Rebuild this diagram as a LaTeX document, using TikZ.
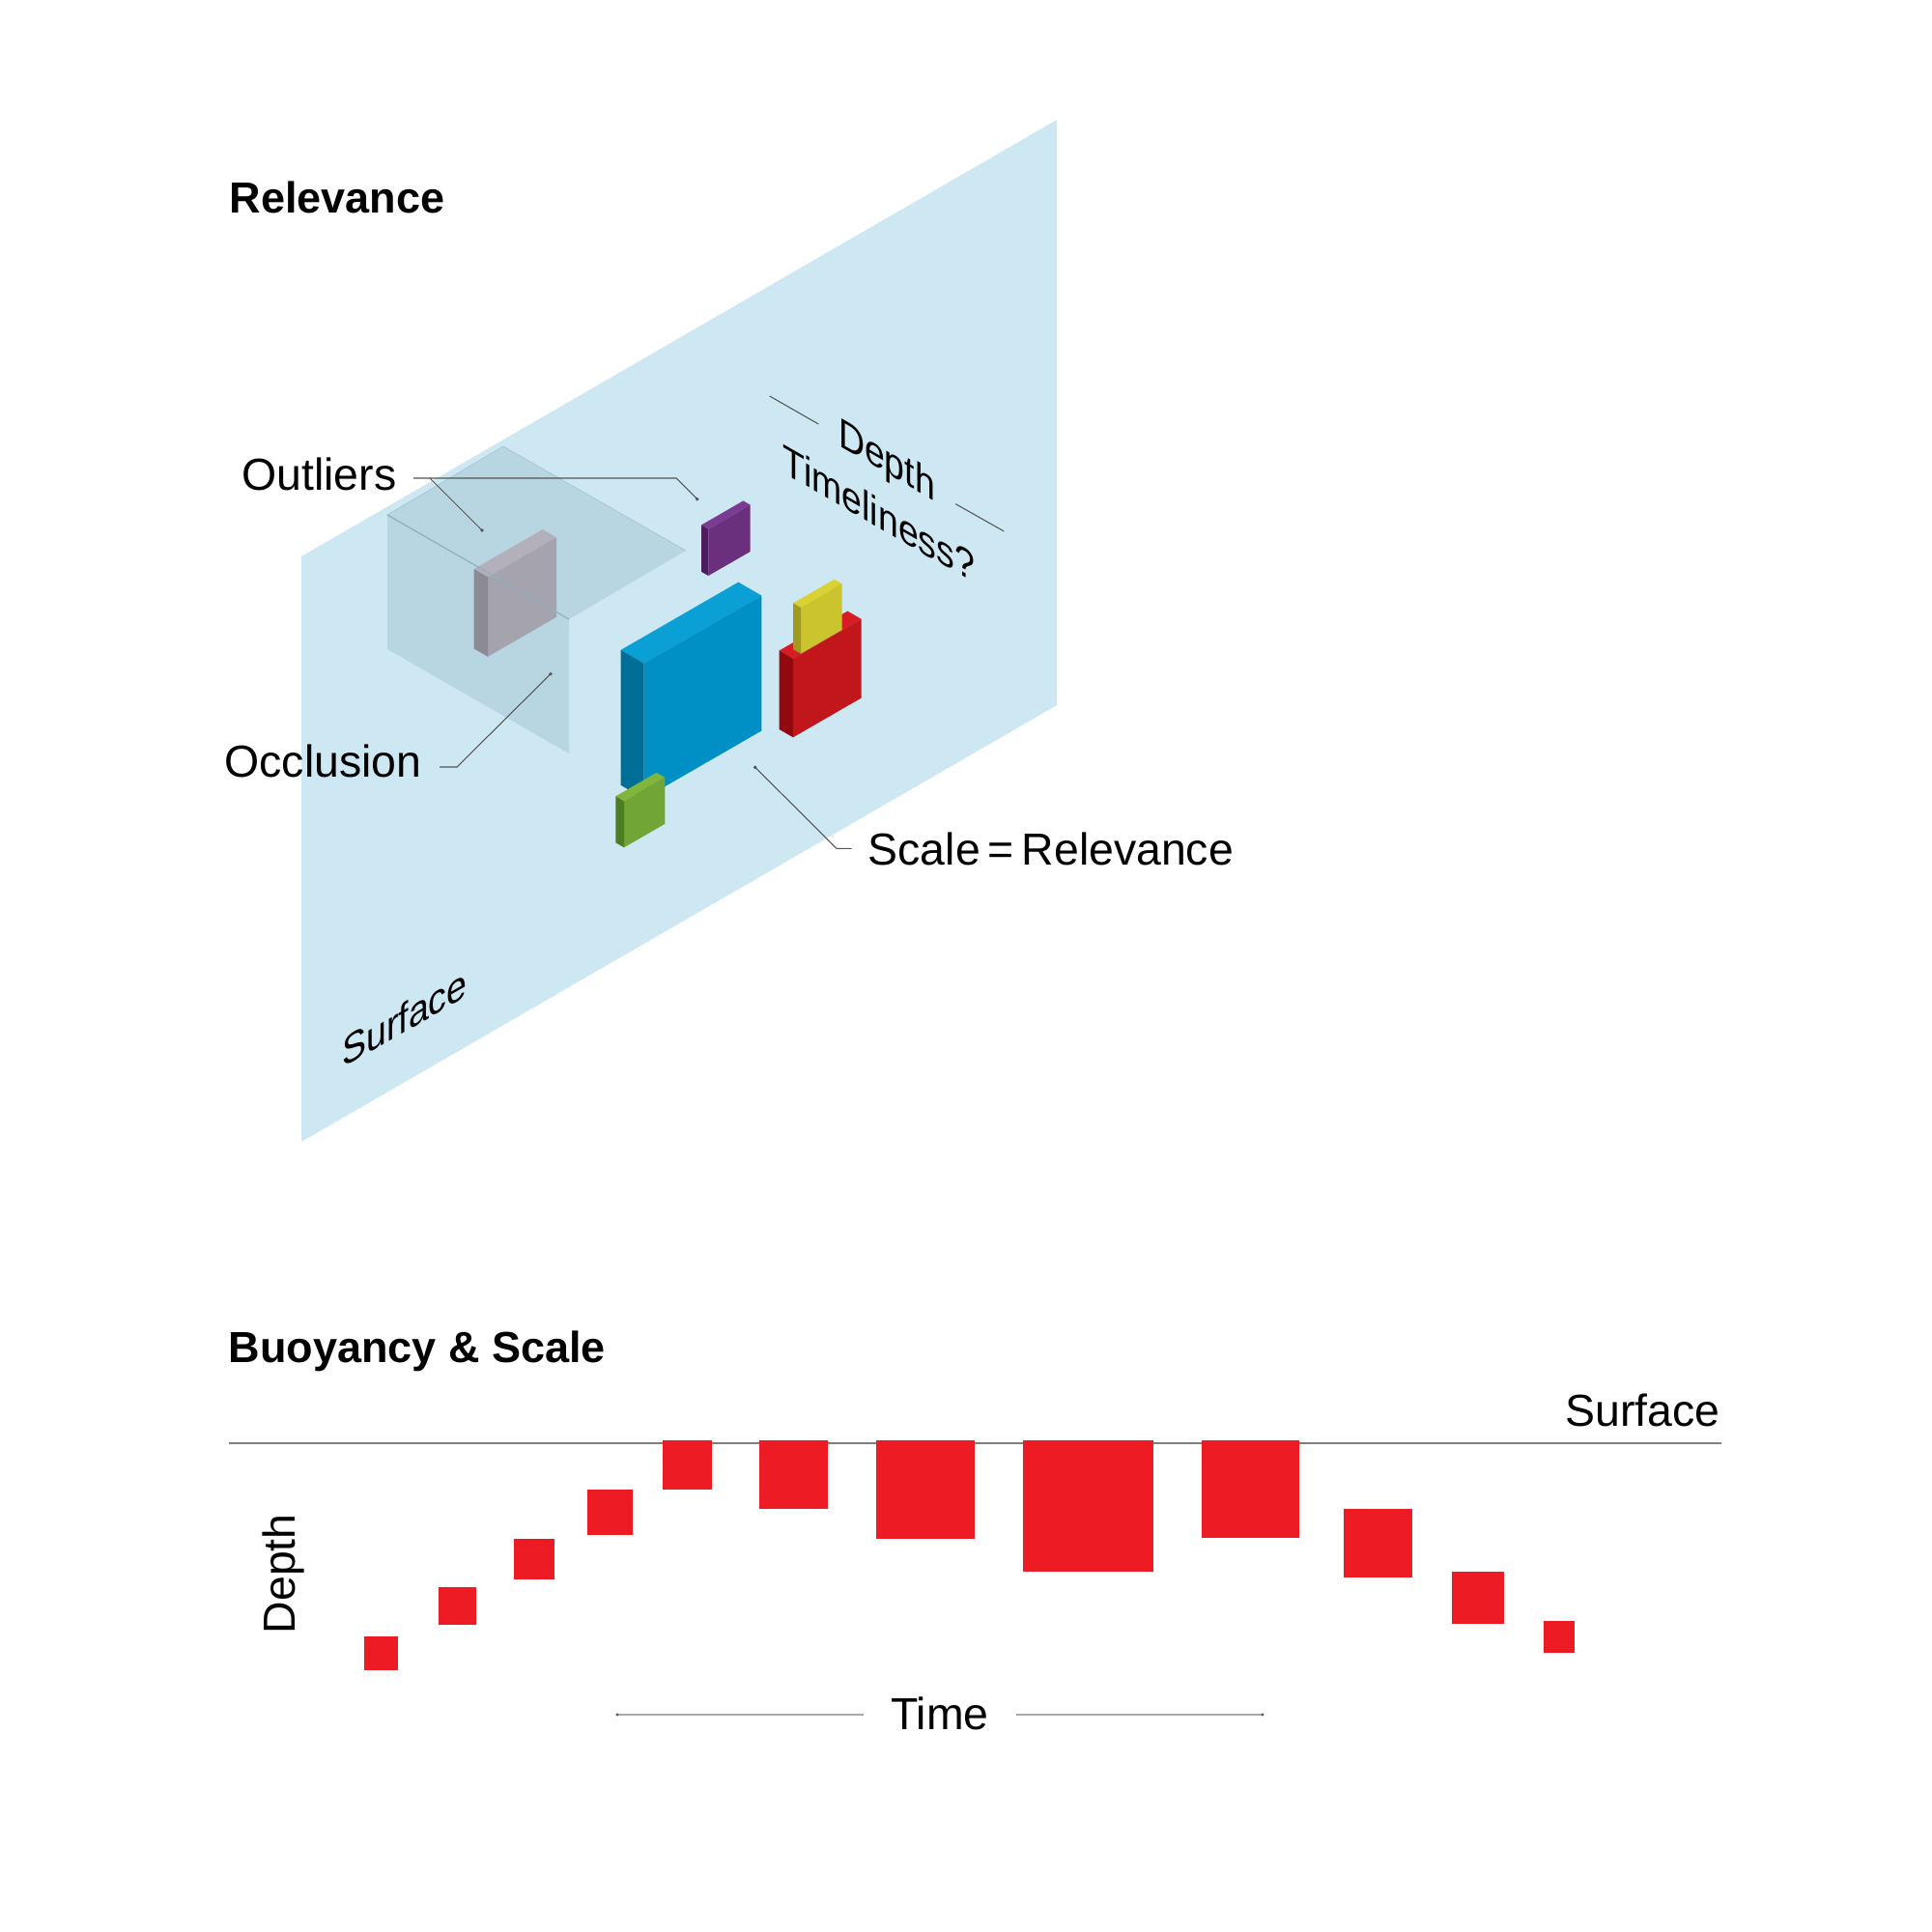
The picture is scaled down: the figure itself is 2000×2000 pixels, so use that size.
\documentclass[tikz,border=0pt]{standalone}
\usepackage{fontspec}
\setmainfont{Liberation Sans}
\definecolor{planeblue}{HTML}{CDE8F2}
\definecolor{overlayc}{HTML}{8FB5C5}
\definecolor{edgec}{HTML}{8FAFBD}
\definecolor{leadgray}{HTML}{555555}
\definecolor{timegray}{HTML}{A8A8A8}
\definecolor{surfgray}{HTML}{808080}
\definecolor{sqred}{HTML}{ED1C24}
\definecolor{grayT}{HTML}{B3B0BB}\definecolor{grayF}{HTML}{A5A3AE}\definecolor{grayS}{HTML}{8C8B95}
\definecolor{purT}{HTML}{7B3B93}\definecolor{purF}{HTML}{6A2F7D}\definecolor{purS}{HTML}{4D1C5E}
\definecolor{bluT}{HTML}{0AA0D6}\definecolor{bluF}{HTML}{0090C6}\definecolor{bluS}{HTML}{006F98}
\definecolor{grnT}{HTML}{82B53C}\definecolor{grnF}{HTML}{71A535}\definecolor{grnS}{HTML}{4F7D24}
\definecolor{redT}{HTML}{D81C23}\definecolor{redF}{HTML}{C1161C}\definecolor{redS}{HTML}{920A0D}
\definecolor{yelT}{HTML}{DAD233}\definecolor{yelF}{HTML}{CBC42C}\definecolor{yelS}{HTML}{A09A1E}
% x y w h d top front side
\newcommand{\isobox}[8]{%
  \fill[#6] ({#1-#5},{#2-0.57735*#5}) -- ({#1+#3-#5},{#2-0.57735*#3-0.57735*#5}) -- ({#1+#3},{#2-0.57735*#3}) -- (#1,#2) -- cycle;
  \fill[#7] (#1,#2) -- ({#1+#3},{#2-0.57735*#3}) -- ({#1+#3},{#2-0.57735*#3+#4}) -- (#1,{#2+#4}) -- cycle;
  \fill[#8] ({#1-#5},{#2-0.57735*#5}) -- (#1,#2) -- (#1,{#2+#4}) -- ({#1-#5},{#2-0.57735*#5+#4}) -- cycle;
}
\begin{document}
\begin{tikzpicture}[x=0.01cm,y=-0.01cm,
  lbl/.style={inner sep=0pt, font=\fontsize{13.2pt}{15pt}\selectfont},
  head/.style={inner sep=0pt, font=\fontsize{12.8pt}{15pt}\selectfont\bfseries},
  planelbl/.style={inner sep=0pt, transform shape, font=\fontsize{12.3pt}{14pt}\selectfont},
  leader/.style={draw=leadgray, line width=0.3pt},
  enddot/.style={fill=leadgray},
  sq/.style={fill=sqred, draw=none},
  overlay plane/.style={fill=overlayc, fill opacity=0.35}]
\fill[white] (0,0) rectangle (2000,2000);
\useasboundingbox (0,0) rectangle (2000,2000);

% main plane
\fill[planeblue] (312,576) -- (1094,124) -- (1094,730) -- (312,1182) -- cycle;

% occlusion planes
\fill[overlay plane] (401,533) -- (521,462) -- (710,570) -- (589,641) -- cycle;
\fill[overlay plane] (401,533) -- (589,641) -- (589,780) -- (401,672) -- cycle;
\draw[edgec, line width=0.2pt, opacity=0.5] (401,533) -- (521,462) -- (710,570);

% boxes
\isobox{505}{597.3}{71}{82.5}{14.3}{grayT}{grayF}{grayS}
\draw[edgec, line width=0.35pt] (401,533) -- (589,641);
\isobox{733.3}{547.7}{43.4}{48.3}{7.3}{purT}{purF}{purS}
\isobox{666.7}{686.7}{121.6}{140}{24}{bluT}{bluF}{bluS}
\isobox{646}{829.3}{42.3}{48}{8.7}{grnT}{grnF}{grnS}
\isobox{821}{681.7}{70.7}{81.6}{14.3}{redT}{redF}{redS}
\isobox{829}{629}{42.7}{47.7}{8}{yelT}{yelF}{yelS}

% labels top
\node[head, anchor=base west] (relev) at (237,221) {Relevance};
\node[lbl, anchor=base east] (outl) at (411,507) {Outliers};
\node[lbl, anchor=base east] (occl) at (437,804) {Occlusion};
\node[lbl, anchor=base west] (scalerel) at (898,895) {Scale\hspace{0.17em}=\hspace{0.17em}Relevance};

\begin{scope}[shift={(918,479)}, cm={0.866,-0.5,0,1,(0,0)}]
\node[planelbl] (depthtxt) at (0,0) {Depth};
\end{scope}
\begin{scope}[shift={(910,531)}, cm={0.866,-0.5,0,1,(0,0)}]
\node[planelbl] (timeliness) at (0,0) {Timeliness?};
\end{scope}
\begin{scope}[shift={(419,1053)}, cm={0.866,0.5,0,1,(0,0)}]
\node[planelbl] (surftxt) at (0,0) {Surface};
\end{scope}

% leaders
\coordinate (o1) at (428,495);
\coordinate (o2) at (700,495);
\coordinate (o3) at (721.7,516.7);
\coordinate (o4) at (445,495);
\coordinate (o5) at (499,549);
\draw[leader] (o1) -- (o2) -- (o3);
\draw[leader] (o4) -- (o5);
\fill[enddot] (o3) circle[radius=0.55pt];
\fill[enddot] (o5) circle[radius=0.55pt];

\coordinate (c1) at (455,794);
\coordinate (c2) at (473,794);
\coordinate (c3) at (570,697.7);
\draw[leader] (c1) -- (c2) -- (c3);
\fill[enddot] (c3) circle[radius=0.55pt];

\coordinate (s1) at (881.7,878.3);
\coordinate (s2) at (866,878.3);
\coordinate (s3) at (781.7,794.3);
\draw[leader] (s1) -- (s2) -- (s3);
\fill[enddot] (s3) circle[radius=0.55pt];

\coordinate (d1) at (796.7,410);
\coordinate (d2) at (847.3,439);
\coordinate (d3) at (989.3,521.7);
\coordinate (d4) at (1039.3,550);
\draw[leader] (d1) -- (d2);
\draw[leader] (d3) -- (d4);

% bottom diagram
\node[head, anchor=base west] (buoy) at (236,1410) {Buoyancy \& Scale};
\node[lbl, anchor=base east] (surf2) at (1781,1476) {Surface};
\coordinate (sl) at (237,1494);
\coordinate (sr) at (1782,1494);
\draw[surfgray, line width=0.5pt] (sl) -- (sr);

\fill[sq] (377,1694) rectangle +(35,35);
\fill[sq] (453.6,1643.3) rectangle +(39,39);
\fill[sq] (531.5,1592.7) rectangle +(42.5,42.5);
\fill[sq] (608.3,1542) rectangle +(46.5,46.5);
\fill[sq] (685.7,1491.3) rectangle +(51,51);
\fill[sq] (786,1491.3) rectangle +(70.5,70.5);
\fill[sq] (907,1491.3) rectangle +(101.5,101.5);
\fill[sq] (1058.7,1491.3) rectangle +(135.5,135.5);
\fill[sq] (1243.9,1491.3) rectangle +(101,101);
\fill[sq] (1391.2,1562.3) rectangle +(70.6,70.6);
\fill[sq] (1502.7,1626.7) rectangle +(54.5,54.5);
\fill[sq] (1597.5,1677.7) rectangle +(32.8,32.8);

\node[lbl, anchor=base west, rotate=90] (depth2) at (305,1692) {Depth};
\node[lbl, anchor=base] (timetxt) at (973,1790) {Time};
\coordinate (t1) at (639,1775);
\coordinate (t2) at (894,1775);
\coordinate (t3) at (1052,1775);
\coordinate (t4) at (1307,1775);
\draw[timegray, line width=0.4pt] (t1) -- (t2);
\draw[timegray, line width=0.4pt] (t3) -- (t4);
\fill[leadgray] (t1) circle[radius=0.45pt];
\fill[leadgray] (t4) circle[radius=0.45pt];
\end{tikzpicture}
\end{document}
